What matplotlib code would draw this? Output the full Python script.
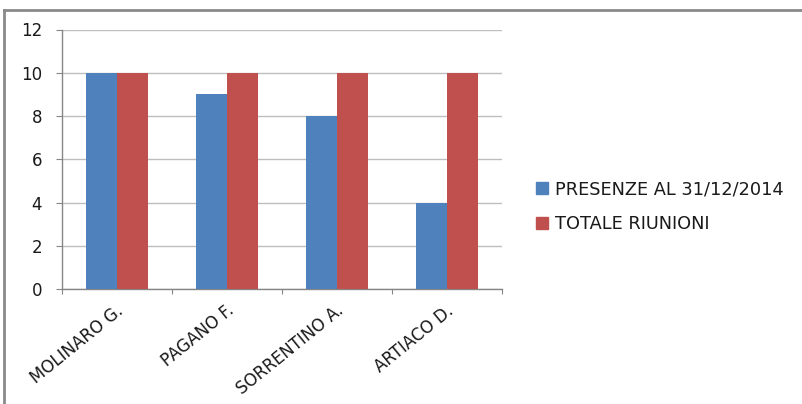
import numpy as np
import matplotlib.pyplot as plt
from matplotlib.lines import Line2D
from matplotlib.patches import Patch

categories = ['MOLINARO G.', 'PAGANO F.', 'SORRENTINO A.', 'ARTIACO D.']
presenze = [10, 9, 8, 4]
totale = [10, 10, 10, 10]
series_names = ['PRESENZE AL 31/12/2014', 'TOTALE RIUNIONI']

blue = '#4F81BD'
red = '#C0504D'
plt.rcParams['font.family'] = ['DejaVu Sans']
plt.rcParams['text.color'] = '#1A1A1A'
plt.rcParams['xtick.labelcolor'] = '#1A1A1A'
plt.rcParams['ytick.labelcolor'] = '#1A1A1A'

fig = plt.figure(figsize=(8.03, 4.04), dpi=100)
ax = fig.add_axes([62 / 803, 1 - 289 / 404, 440 / 803, 259.5 / 404])

x = np.arange(len(categories))
w = 0.282
ax.bar(x - w / 2, presenze, w, color=blue, zorder=3)
ax.bar(x + w / 2, totale, w, color=red, zorder=3)

ax.set_xlim(-0.5, len(categories) - 0.5)
ax.set_ylim(0, 12)
ax.set_yticks(range(0, 13, 2))
ax.yaxis.grid(True, color='#BEBEBE', linewidth=1, zorder=0)
ax.set_axisbelow(True)

for key in ['top', 'right']:
    ax.spines[key].set_visible(False)
for key in ['left', 'bottom']:
    ax.spines[key].set_color('#868686')
    ax.spines[key].set_linewidth(1)

ax.set_xticks(np.arange(-0.5, len(categories), 1))
ax.set_xticklabels([])
ax.set_xticks(x + 0.04, minor=True)
ax.set_xticklabels(categories, minor=True, rotation=39, ha='right', va='center',
                   rotation_mode='anchor', fontsize=12)
ax.tick_params(axis='x', which='minor', length=0, pad=14)
ax.tick_params(axis='x', which='major', length=3.6, color='#868686', direction='out')
ax.tick_params(axis='y', length=4.3, color='#868686', labelsize=12, pad=10)

handles = [Patch(color=blue), Patch(color=red)]
fig.legend(handles, series_names, loc='center left',
           bbox_to_anchor=(536 / 803, 1 - 206.5 / 404), frameon=False,
           fontsize=12.8, handlelength=0.7, handleheight=0.7,
           handletextpad=0.35, labelspacing=0.95, borderpad=0, borderaxespad=0)

# frame of the original chart area (top and left edges visible)
border = dict(color='#8A8A8A', linewidth=2, transform=fig.transFigure)
fig.add_artist(Line2D([4.5 / 803, 1], [1 - 10 / 404, 1 - 10 / 404], **border))
fig.add_artist(Line2D([4.5 / 803, 4.5 / 803], [0, 1 - 10 / 404], **border))

plt.savefig('out.png', dpi=100)
